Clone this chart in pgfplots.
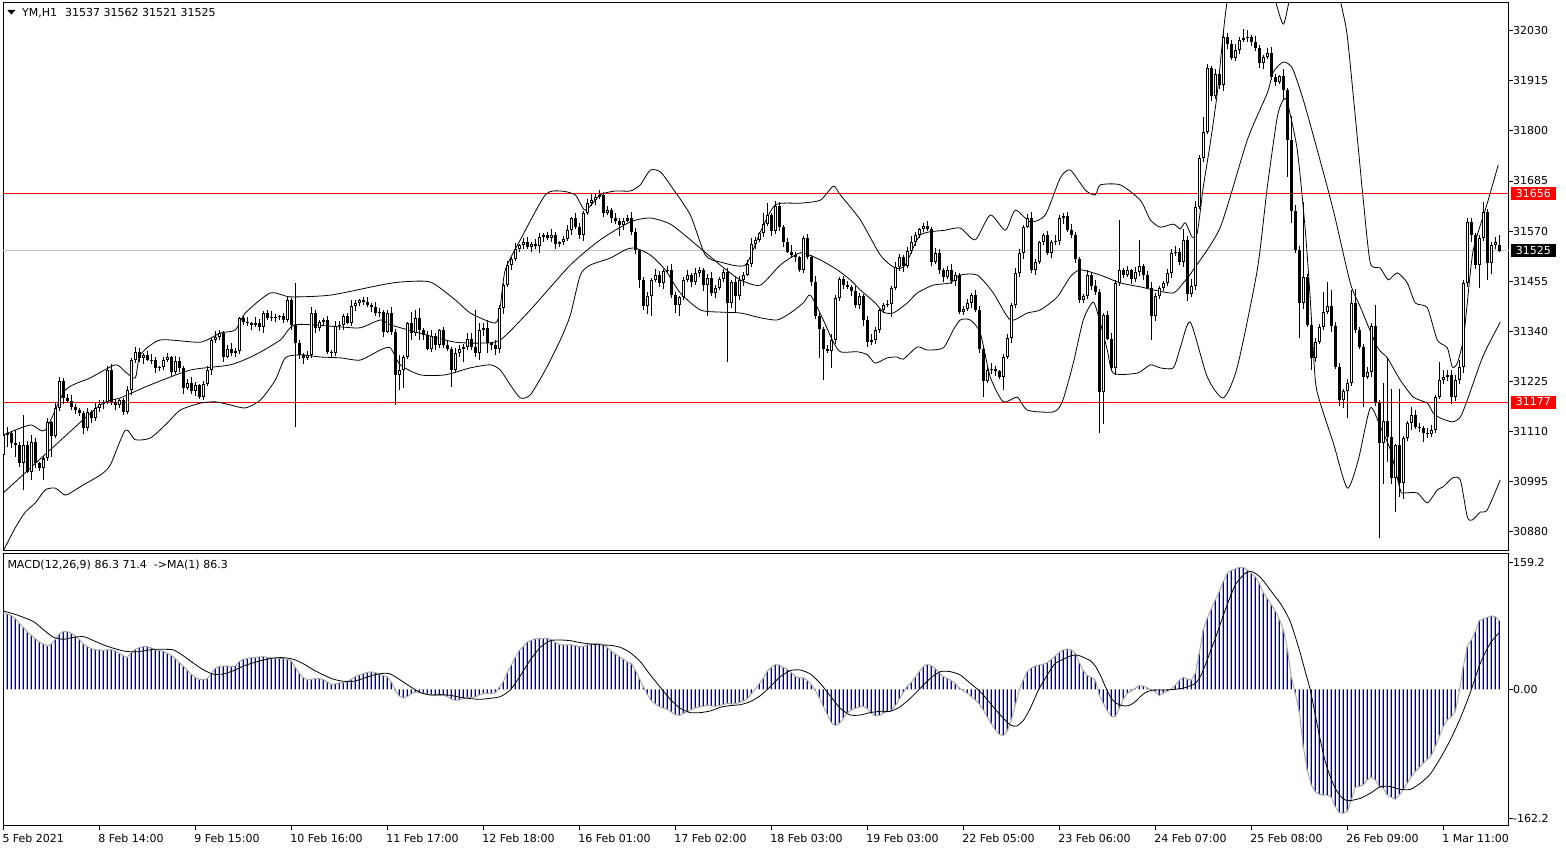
\documentclass[border=0pt]{standalone}
\usepackage{fontspec}
\setmainfont{DejaVu Sans}
\usepackage{pgfplots}
\usepackage{pgfplotstable}
\pgfplotsset{compat=1.18}
\definecolor{navyb}{RGB}{0,0,128}
\definecolor{histline}{RGB}{170,170,170}
\definecolor{lvl}{RGB}{192,192,192}
\newcommand{\tf}{\fontsize{11}{13}\selectfont}

\pgfplotstableread{
i o h l c
0 31056 31110 31050 31102
1 31102 31121 31075 31106
2 31106 31110 31072 31083
3 31083 31113 31052 31078
4 31078 31086 31029 31038
5 31038 31148 30976 31080
6 31080 31089 31014 31018
7 31018 31101 30999 31087
8 31087 31094 31027 31037
9 31037 31040 31020 31026
10 31026 31054 30999 31048
11 31048 31141 31043 31131
12 31131 31135 31052 31100
13 31100 31177 31094 31165
14 31165 31235 31156 31227
15 31227 31232 31173 31186
16 31186 31195 31176 31180
17 31180 31194 31160 31167
18 31167 31174 31150 31160
19 31160 31163 31146 31152
20 31152 31158 31105 31117
21 31117 31165 31112 31155
22 31155 31159 31129 31140
23 31140 31175 31134 31163
24 31163 31182 31154 31174
25 31174 31183 31161 31178
26 31178 31260 31174 31251
27 31251 31265 31171 31178
28 31178 31185 31160 31170
29 31170 31185 31164 31182
30 31182 31188 31147 31155
31 31155 31215 31150 31205
32 31205 31278 31194 31274
33 31274 31305 31268 31293
34 31293 31301 31269 31278
35 31278 31290 31265 31285
36 31285 31294 31271 31275
37 31275 31289 31266 31273
38 31273 31280 31245 31255
39 31255 31261 31249 31258
40 31258 31280 31250 31274
41 31274 31290 31269 31280
42 31280 31284 31236 31247
43 31247 31284 31241 31272
44 31272 31280 31246 31255
45 31255 31260 31197 31210
46 31210 31230 31206 31221
47 31221 31235 31195 31202
48 31202 31224 31192 31217
49 31217 31220 31184 31190
50 31190 31226 31182 31220
51 31220 31261 31215 31251
52 31251 31324 31240 31320
53 31320 31340 31314 31328
54 31328 31344 31319 31336
55 31336 31341 31269 31282
56 31282 31309 31278 31300
57 31300 31314 31283 31290
58 31290 31302 31280 31295
59 31295 31373 31289 31370
60 31370 31376 31354 31362
61 31362 31372 31353 31358
62 31358 31362 31344 31355
63 31355 31372 31349 31360
64 31360 31368 31341 31350
65 31350 31386 31337 31381
66 31381 31390 31366 31370
67 31370 31387 31363 31373
68 31373 31380 31362 31372
69 31372 31378 31366 31375
70 31375 31381 31358 31366
71 31366 31422 31361 31412
72 31412 31416 31344 31355
73 31355 31450 31121 31312
74 31312 31320 31276 31285
75 31285 31290 31265 31278
76 31278 31294 31274 31285
77 31285 31395 31278 31381
78 31381 31388 31337 31347
79 31347 31365 31341 31362
80 31362 31371 31354 31365
81 31365 31375 31288 31293
82 31293 31297 31279 31290
83 31290 31363 31284 31351
84 31351 31363 31342 31355
85 31355 31379 31342 31374
86 31374 31383 31356 31360
87 31360 31411 31353 31397
88 31397 31412 31387 31405
89 31405 31415 31399 31412
90 31412 31418 31400 31408
91 31408 31418 31395 31400
92 31400 31404 31385 31396
93 31396 31408 31375 31381
94 31381 31393 31372 31385
95 31385 31390 31326 31339
96 31339 31390 31335 31381
97 31381 31395 31332 31339
98 31339 31345 31171 31240
99 31240 31285 31205 31250
100 31250 31285 31210 31282
101 31282 31362 31277 31358
102 31358 31385 31320 31335
103 31335 31390 31330 31370
104 31370 31393 31320 31343
105 31343 31348 31319 31332
106 31332 31341 31296 31300
107 31300 31344 31293 31330
108 31330 31337 31298 31308
109 31308 31346 31302 31343
110 31343 31349 31301 31309
111 31309 31319 31295 31300
112 31300 31304 31213 31251
113 31251 31302 31245 31290
114 31290 31308 31281 31300
115 31300 31310 31270 31305
116 31305 31335 31296 31323
117 31323 31337 31298 31305
118 31305 31388 31280 31290
119 31290 31358 31275 31343
120 31343 31360 31330 31347
121 31347 31365 31290 31312
122 31312 31316 31297 31308
123 31308 31320 31285 31300
124 31300 31401 31291 31393
125 31393 31451 31380 31446
126 31446 31502 31442 31492
127 31492 31511 31481 31507
128 31507 31542 31501 31530
129 31530 31541 31521 31538
130 31538 31553 31530 31546
131 31546 31556 31528 31533
132 31533 31544 31522 31540
133 31540 31552 31529 31535
134 31535 31565 31520 31557
135 31557 31565 31544 31560
136 31560 31569 31549 31553
137 31553 31574 31546 31560
138 31560 31567 31530 31540
139 31540 31548 31534 31545
140 31545 31558 31537 31552
141 31552 31583 31547 31573
142 31573 31603 31562 31599
143 31599 31611 31574 31580
144 31580 31588 31552 31561
145 31561 31616 31548 31611
146 31611 31643 31607 31634
147 31634 31655 31627 31641
148 31641 31656 31631 31649
149 31649 31665 31643 31653
150 31653 31659 31603 31611
151 31611 31628 31606 31618
152 31618 31622 31588 31599
153 31599 31611 31586 31592
154 31592 31600 31558 31585
155 31585 31599 31572 31594
156 31594 31608 31590 31599
157 31599 31613 31562 31569
158 31569 31576 31518 31527
159 31527 31530 31440 31458
160 31458 31464 31389 31397
161 31397 31430 31380 31420
162 31420 31462 31374 31458
163 31458 31482 31452 31470
164 31470 31478 31441 31450
165 31450 31483 31437 31478
166 31478 31489 31474 31480
167 31480 31494 31416 31423
168 31423 31430 31381 31400
169 31400 31422 31374 31419
170 31419 31464 31411 31458
171 31458 31480 31453 31470
172 31470 31474 31441 31452
173 31452 31485 31446 31473
174 31473 31488 31464 31480
175 31480 31485 31433 31446
176 31446 31471 31374 31462
177 31462 31476 31420 31427
178 31427 31447 31417 31440
179 31440 31464 31434 31461
180 31461 31482 31453 31476
181 31476 31486 31270 31404
182 31404 31458 31393 31454
183 31454 31466 31385 31420
184 31420 31466 31411 31458
185 31458 31475 31445 31470
186 31470 31504 31466 31495
187 31495 31554 31488 31540
188 31540 31557 31530 31550
189 31550 31568 31544 31565
190 31565 31611 31557 31587
191 31587 31634 31582 31607
192 31607 31611 31559 31570
193 31570 31640 31564 31628
194 31628 31636 31571 31580
195 31580 31585 31533 31546
196 31546 31555 31519 31523
197 31523 31537 31508 31515
198 31515 31522 31500 31510
199 31510 31513 31475 31481
200 31481 31559 31473 31553
201 31553 31563 31506 31511
202 31511 31515 31443 31454
203 31454 31466 31368 31374
204 31374 31382 31278 31345
205 31345 31350 31228 31300
206 31300 31309 31291 31295
207 31295 31334 31255 31320
208 31320 31423 31310 31416
209 31416 31464 31410 31461
210 31461 31467 31438 31446
211 31446 31456 31437 31442
212 31442 31446 31421 31432
213 31432 31444 31394 31400
214 31400 31428 31391 31420
215 31420 31425 31353 31366
216 31366 31375 31305 31316
217 31316 31334 31309 31320
218 31320 31349 31310 31342
219 31342 31392 31336 31389
220 31389 31406 31381 31400
221 31400 31412 31395 31402
222 31402 31444 31373 31440
223 31440 31500 31434 31488
224 31488 31518 31479 31510
225 31510 31515 31477 31490
226 31490 31534 31486 31525
227 31525 31559 31518 31545
228 31545 31567 31535 31560
229 31560 31578 31554 31575
230 31575 31588 31567 31582
231 31582 31592 31570 31575
232 31575 31579 31489 31500
233 31500 31532 31494 31520
234 31520 31528 31471 31480
235 31480 31485 31452 31465
236 31465 31489 31461 31480
237 31480 31494 31448 31455
238 31455 31477 31445 31470
239 31470 31473 31379 31385
240 31385 31398 31377 31392
241 31392 31415 31387 31405
242 31405 31427 31394 31423
243 31423 31435 31384 31390
244 31390 31398 31291 31300
245 31300 31305 31190 31225
246 31225 31259 31221 31250
247 31250 31268 31243 31254
248 31254 31261 31238 31248
249 31248 31251 31230 31236
250 31236 31288 31205 31282
251 31282 31334 31277 31324
252 31324 31404 31313 31400
253 31400 31485 31394 31473
254 31473 31528 31464 31520
255 31520 31585 31507 31580
256 31580 31610 31576 31600
257 31600 31614 31473 31480
258 31480 31507 31470 31500
259 31500 31548 31494 31545
260 31545 31566 31537 31560
261 31560 31570 31515 31520
262 31520 31549 31509 31545
263 31545 31560 31539 31548
264 31548 31607 31539 31599
265 31599 31612 31586 31604
266 31604 31613 31569 31573
267 31573 31587 31553 31560
268 31560 31567 31497 31507
269 31507 31510 31406 31412
270 31412 31426 31404 31420
271 31420 31480 31415 31470
272 31470 31474 31434 31445
273 31445 31457 31424 31430
274 31430 31438 31106 31200
275 31200 31382 31128 31377
276 31377 31386 31319 31323
277 31323 31337 31248 31255
278 31255 31457 31240 31450
279 31450 31595 31444 31480
280 31480 31486 31462 31470
281 31470 31490 31465 31480
282 31480 31484 31449 31460
283 31460 31487 31454 31475
284 31475 31550 31466 31490
285 31490 31495 31457 31470
286 31470 31479 31436 31440
287 31440 31454 31320 31374
288 31374 31427 31364 31420
289 31420 31443 31414 31440
290 31440 31456 31432 31450
291 31450 31483 31445 31473
292 31473 31530 31462 31519
293 31519 31535 31513 31523
294 31523 31531 31491 31500
295 31500 31575 31487 31550
296 31550 31559 31410 31425
297 31425 31459 31418 31445
298 31445 31638 31435 31626
299 31626 31745 31620 31737
300 31737 31832 31729 31798
301 31798 31954 31793 31944
302 31944 31948 31869 31880
303 31880 31942 31874 31930
304 31930 31938 31896 31905
305 31905 32030 31892 32016
306 32016 32025 31987 32000
307 32000 32009 31963 31967
308 31967 32000 31960 31986
309 31986 32016 31976 32009
310 32009 32033 32003 32013
311 32013 32031 32005 32016
312 32016 32020 31994 32005
313 32005 32017 31984 31990
314 31990 31998 31945 31955
315 31955 31975 31942 31970
316 31970 31990 31966 31978
317 31978 31992 31917 31924
318 31924 31931 31903 31913
319 31913 31928 31907 31925
320 31925 31943 31871 31894
321 31894 31899 31695 31779
322 31779 31833 31588 31615
323 31615 31629 31520 31527
324 31527 31535 31324 31404
325 31404 31637 31391 31465
326 31465 31471 31350 31355
327 31355 31360 31251 31278
328 31278 31325 31270 31316
329 31316 31356 31310 31350
330 31350 31430 31342 31385
331 31385 31454 31380 31397
332 31397 31435 31339 31351
333 31351 31362 31253 31259
334 31259 31267 31169 31182
335 31182 31207 31165 31202
336 31202 31230 31140 31221
337 31221 31435 31214 31404
338 31404 31438 31336 31343
339 31343 31350 31299 31305
340 31305 31311 31167 31236
341 31236 31257 31231 31247
342 31247 31360 31236 31351
343 31351 31400 31169 31175
344 31175 31183 30866 31083
345 31083 31221 30990 31133
346 31133 31278 31040 31098
347 31098 31208 30990 31003
348 31003 31082 30926 31079
349 31079 31208 30960 30991
350 30991 31099 30955 31094
351 31094 31135 31088 31129
352 31129 31167 31114 31148
353 31148 31160 31116 31121
354 31121 31130 31108 31117
355 31117 31122 31086 31106
356 31106 31119 31096 31104
357 31104 31125 31098 31113
358 31113 31194 31106 31190
359 31190 31270 31184 31228
360 31228 31250 31220 31236
361 31236 31250 31226 31240
362 31240 31250 31173 31190
363 31190 31240 31180 31228
364 31228 31275 31219 31258
365 31258 31458 31245 31451
366 31451 31600 31442 31591
367 31591 31600 31545 31561
368 31561 31566 31484 31492
369 31492 31560 31439 31554
370 31554 31637 31548 31614
371 31614 31620 31458 31497
372 31497 31545 31471 31538
373 31538 31556 31528 31545
374 31537 31562 31521 31525
}\candles

\pgfplotstableread{
i v
0 31102
6.75 31125
10.5 31113
15.5 31205
21.75 31233
28 31263
30.5 31247
33 31233
34.25 31286
39.25 31320
49.25 31315
54.25 31336
58 31343
60.5 31382
66.75 31428
71.75 31419
81.75 31423
94.25 31446
99.25 31453
106.75 31453
113 31412
116.75 31382
123 31359
124.25 31398
125.5 31481
129.25 31550
135.5 31653
139.25 31662
143 31653
145.5 31618
149.25 31653
153 31662
156.75 31662
159.25 31676
161.75 31710
164.25 31706
166.75 31676
171.75 31607
175.5 31515
179.25 31499
185.5 31492
189.25 31568
193 31630
199.25 31634
204.25 31641
207.5 31673
209.25 31653
214.25 31596
219.25 31515
223 31485
225.5 31492
229.25 31561
235.5 31572
239.25 31577
243 31550
246.75 31607
250.5 31572
253 31618
256.75 31591
260.5 31607
264.25 31692
266.75 31710
270.5 31664
273 31653
274.25 31676
279.25 31676
284.25 31641
286.75 31596
289.25 31579
292.5 31586
294.25 31575
295.5 31589
297.25 31556
298.5 31566
300 31671
301.75 31772
303.5 31887
305 32025
306 32100
308 32192
312 32260
315.5 32192
318 32100
320 32045
321.5 32100
324.25 32215
329.25 32238
333 32169
334.25 32100
335.9 32025
337.6 31871
338.8 31756
340 31641
341.75 31497
344.25 31485
346.25 31458
348.5 31474
351 31451
353 31405
356 31394
358.5 31320
361 31302
362.25 31258
363.5 31267
365 31320
366 31405
367.5 31527
371 31634
373.75 31722
}\upperband

\pgfplotstableread{
i v
0 30969
11.75 31068
24.25 31171
29.25 31187
36.75 31217
46.75 31251
56.75 31263
63 31286
69.25 31320
73 31355
84.25 31350
89.25 31348
94.25 31366
96.75 31355
106.75 31329
113 31315
119.25 31313
124.25 31320
131.75 31389
141.75 31492
149.25 31550
156.75 31591
161.75 31600
166.75 31586
171.75 31550
179.25 31492
184.25 31458
189.25 31446
194.25 31492
199.25 31520
204 31505
208.5 31481
211.75 31458
214.25 31435
218 31405
220 31384
222.5 31382
226 31405
228.5 31428
232.5 31446
236.75 31451
239.25 31469
243.5 31469
247.5 31428
251.75 31366
256 31382
259.25 31389
263.5 31419
266.75 31465
269.25 31481
274.25 31469
279.25 31451
284.25 31442
287.5 31435
292.5 31428
295 31451
297.5 31481
304.25 31579
311 31779
316 31887
317.5 31935
320 31958
322.25 31944
325 31871
328.5 31756
332.5 31618
336.75 31451
339.25 31396
343.5 31304
346 31279
349.25 31228
352.5 31189
356 31175
357.5 31152
359.25 31141
362.25 31132
364.25 31143
366 31182
369.25 31267
371 31304
374.25 31361
}\midband

\pgfplotstableread{
i v
0 30836
3 30889
5.5 30925
8 30946
10.5 30976
13 30980
15.5 30964
18 30976
20.5 30990
24.25 31010
26.75 31033
30.5 31113
33 31091
36.75 31095
40.5 31125
44.25 31159
49.25 31175
53 31178
56.75 31171
60.5 31164
64.25 31182
68 31228
70.5 31279
74.25 31286
79.25 31281
84.25 31279
89.25 31274
94.25 31297
96.75 31302
99.25 31263
104.25 31240
110.5 31240
116.75 31256
121.75 31263
124.25 31251
126.75 31217
129.25 31187
131.75 31194
135.5 31251
139.25 31320
141.75 31377
144.25 31469
146.75 31492
151.75 31508
155.5 31527
158 31531
161.75 31515
165.5 31481
169.25 31428
174.25 31389
179.25 31384
184.25 31382
189.25 31371
193.5 31366
196.75 31382
200 31405
201.75 31423
204.75 31371
207.25 31320
209.25 31293
213.5 31293
216 31286
218 31267
221 31279
223.5 31281
225 31276
228.5 31304
231 31297
235 31302
237.5 31343
239.25 31366
241.75 31366
244.25 31336
246.75 31235
250 31178
253.5 31189
256 31159
262.5 31155
264.75 31178
267.5 31267
270 31366
272.5 31407
274.25 31359
276 31297
277.5 31244
283.5 31244
286.75 31263
289.25 31256
292.5 31256
294.25 31302
296.75 31361
301 31235
305 31187
308.5 31258
313.5 31481
316 31671
318.5 31832
320 31871
321 31866
323.5 31756
325.5 31572
326.75 31412
328 31228
329.25 31175
332.5 31084
336 30980
338.75 31045
341.75 31164
344.25 31121
346.75 31068
349.25 30976
350 30969
353.5 30969
356 30946
358.5 30976
360 30983
362.25 31003
364.25 30999
366 30914
367.25 30907
369.25 30925
371 30930
374.25 30999
}\lowerband

\pgfplotstableread{
i m
0 95.6
1 94.7
2 92.6
3 88.9
4 83.0
5 78.0
6 72.1
7 67.9
8 63.7
9 59.5
10 57.0
11 54.5
12 57.0
13 62.9
14 69.6
15 72.5
16 72.5
17 70.4
18 67.1
19 62.9
20 57.0
21 53.7
22 51.1
23 49.5
24 49.5
25 49.0
26 49.5
27 49.9
28 48.2
29 45.3
30 41.9
31 40.2
32 46.1
33 50.3
34 52.4
35 53.7
36 53.7
37 52.0
38 49.9
39 48.6
40 47.8
41 45.3
42 42.8
43 38.6
44 33.5
45 29.3
46 23.9
47 18.9
48 14.7
49 12.6
50 12.2
51 13.4
52 20.1
53 26.4
54 28.9
55 29.3
56 29.3
57 28.5
58 29.3
59 34.8
60 37.7
61 39.0
62 39.8
63 40.2
64 40.7
65 41.1
66 40.2
67 39.4
68 39.0
69 39.0
70 38.6
71 37.7
72 35.6
73 27.7
74 20.1
75 14.7
76 11.7
77 12.6
78 13.4
79 13.4
80 12.2
81 9.2
82 5.9
83 6.7
84 8.0
85 8.8
86 10.1
87 12.6
88 15.9
89 18.0
90 19.7
91 21.4
92 21.8
93 21.0
94 19.3
95 17.2
96 15.5
97 9.6
98 -1.7
99 -8.4
100 -10.9
101 -9.2
102 -5.9
103 -3.4
104 -3.4
105 -4.6
106 -5.9
107 -7.1
108 -8.0
109 -7.5
110 -7.5
111 -9.2
112 -12.2
113 -13.8
114 -13.4
115 -11.7
116 -10.1
117 -10.1
118 -9.6
119 -7.1
120 -5.4
121 -5.0
122 -5.0
123 -4.6
124 2.5
125 9.6
126 21.0
127 30.6
128 40.2
129 48.6
130 53.7
131 59.5
132 61.6
133 63.3
134 64.1
135 64.1
136 64.1
137 62.5
138 59.1
139 56.6
140 55.8
141 55.8
142 55.8
143 54.9
144 53.7
145 53.7
146 55.8
147 57.0
148 57.9
149 57.9
150 56.2
151 52.4
152 48.2
153 44.4
154 41.1
155 38.1
156 34.4
157 32.3
158 24.3
159 13.8
160 3.4
161 -6.3
162 -14.3
163 -18.4
164 -21.8
165 -23.5
166 -25.2
167 -28.5
168 -31.9
169 -32.7
170 -30.6
171 -28.1
172 -25.6
173 -23.5
174 -22.2
175 -21.4
176 -20.1
177 -21.0
178 -21.4
179 -20.5
180 -19.3
181 -17.6
182 -18.4
183 -18.0
184 -16.8
185 -14.7
186 -11.7
187 -5.9
188 0.4
189 7.1
190 13.8
191 22.6
192 27.7
193 31.0
194 30.6
195 27.7
196 25.2
197 21.0
198 16.3
199 14.3
200 14.3
201 11.3
202 5.9
203 -1.3
204 -10.5
205 -21.4
206 -31.4
207 -41.9
208 -45.7
209 -43.2
210 -36.5
211 -29.8
212 -26.0
213 -23.9
214 -22.2
215 -21.4
216 -24.3
217 -30.2
218 -33.5
219 -33.1
220 -30.2
221 -28.1
222 -26.4
223 -20.5
224 -12.6
225 -4.2
226 3.8
227 8.8
228 15.5
229 22.2
230 28.5
231 31.4
232 29.8
233 26.0
234 21.0
235 15.9
236 13.8
237 10.9
238 7.1
239 1.7
240 -1.7
241 -5.0
242 -9.2
243 -13.4
244 -18.4
245 -26.0
246 -34.8
247 -43.2
248 -51.1
249 -56.6
250 -58.3
251 -52.4
252 -38.6
253 -19.7
254 -0.8
255 11.7
256 22.2
257 26.8
258 29.3
259 30.6
260 31.4
261 33.5
262 37.7
263 41.9
264 46.5
265 49.5
266 50.7
267 49.5
268 45.3
269 33.5
270 23.5
271 17.2
272 15.1
273 11.7
274 -7.1
275 -17.6
276 -26.8
277 -34.4
278 -34.4
279 -24.3
280 -12.2
281 -5.0
282 -2.1
283 1.3
284 4.6
285 4.2
286 1.7
287 -0.4
288 -2.9
289 -8.0
290 -5.0
291 -2.5
292 0.4
293 5.4
294 10.9
295 15.1
296 12.6
297 11.7
298 20.1
299 45.3
300 74.6
301 89.3
302 101.0
303 112.3
304 122.8
305 135.4
306 145.9
307 149.7
308 151.3
309 153.4
310 153.4
311 150.1
312 145.9
313 141.7
314 133.3
315 121.6
316 114.4
317 106.5
318 98.5
319 88.0
320 75.5
321 51.6
322 15.9
323 -5.0
324 -28.1
325 -72.1
326 -101.4
327 -120.3
328 -128.7
329 -132.0
330 -132.9
331 -133.3
332 -135.8
333 -147.6
334 -155.1
335 -155.9
336 -153.8
337 -139.2
338 -123.2
339 -122.0
340 -120.3
341 -114.0
342 -110.7
343 -114.0
344 -122.4
345 -124.5
346 -132.9
347 -135.8
348 -138.3
349 -132.9
350 -126.6
351 -118.2
352 -109.8
353 -103.5
354 -98.5
355 -93.1
356 -88.0
357 -83.4
358 -72.1
359 -59.5
360 -47.0
361 -38.6
362 -34.4
363 -28.1
364 -2.9
365 28.5
366 53.7
367 62.0
368 72.5
369 86.4
370 88.5
371 90.5
372 92.2
373 91.4
374 86.3
}\macd

\pgfplotstableread{
i s
0 98.5
3.42 93.5
7.58 85.1
10.08 74.6
12.58 65.4
15.08 62.9
17.58 65.4
20.08 66.2
22.58 61.2
25.08 55.8
27.58 51.6
30.08 48.2
32.58 47.0
35.08 48.2
37.58 50.3
40.08 50.3
42.58 49.5
45.08 41.9
47.58 32.7
50.08 24.3
52.58 18.9
55.08 19.3
57.58 23.5
60.08 29.3
62.58 33.5
65.08 36.9
67.58 39.4
70.08 39.8
72.58 37.7
75.08 31.9
77.58 24.3
80.08 18.0
82.58 12.6
85.08 10.1
87.58 10.1
90.08 13.8
92.58 18.0
95.08 20.1
96.75 19.3
99.25 11.7
101.75 3.4
104.25 -4.2
106.75 -7.1
109.25 -6.7
111.75 -7.5
114.25 -10.1
116.75 -11.7
119.25 -12.6
121.75 -11.3
124.25 -9.2
126.75 -0.8
129.25 17.0
131.75 36.9
134.25 52.8
136.75 61.2
139.25 62.0
141.75 61.2
144.25 58.7
146.75 57.0
149.25 55.8
151.75 55.3
154.25 52.8
156.75 46.1
159.25 34.8
161.75 18.0
164.25 2.5
166.75 -12.6
169.25 -23.9
171.75 -29.3
174.25 -29.3
176.75 -27.2
179.25 -22.6
181.75 -20.5
184.25 -19.3
186.75 -15.5
189.25 -8.0
191.75 3.4
194.25 15.9
196.75 23.5
199.25 24.3
201.75 19.3
204.25 7.5
206.75 -8.4
209.25 -23.9
211.75 -32.3
214.25 -32.3
216.75 -29.3
219.25 -27.7
221.75 -27.7
224.25 -21.8
226.75 -11.3
229.25 1.3
231.75 13.8
234.25 22.2
236.75 22.2
239.25 18.0
241.75 7.5
244.25 -2.9
246.75 -17.6
249.25 -32.3
251.75 -44.9
253.4 -46.1
255.1 -38.6
256.75 -23.9
258.4 -5.0
259.25 3.4
260.5 13.8
261.75 24.3
263 32.7
264.25 36.1
265.5 39.0
266.75 41.9
268 43.2
269.25 41.9
270.5 39.0
271.75 36.1
273 29.3
274.25 18.0
275.5 3.4
276.75 -9.2
278 -16.8
279.25 -19.7
280.5 -21.0
281.75 -19.7
283 -15.5
284.25 -9.2
285.5 -4.2
286.75 -1.7
288 -0.8
290.5 -0.8
293 0.0
295.5 2.1
298 7.5
299.25 15.9
300.5 30.6
301.75 47.4
303 64.1
304.25 82.2
305.5 99.8
306.75 116.5
308 131.2
309.25 139.6
310.5 145.9
311.75 148.4
313 145.9
314.25 140.9
315.5 133.3
316.75 124.9
318 116.5
319.25 108.2
320.5 97.7
321.75 85.1
323 66.2
324.25 45.3
325.5 22.2
326.75 -0.8
328 -32.3
329.25 -63.7
330.5 -91.0
331.75 -109.8
333 -124.5
334.25 -134.1
335.5 -139.2
336.75 -140.0
339.25 -137.1
341.75 -130.8
344.25 -122.4
346.75 -122.4
349.25 -125.8
351.75 -125.8
354.25 -118.2
356.75 -106.5
359.25 -86.8
361.75 -63.7
364.25 -36.5
366.75 -4.2
369.25 32.7
371.75 58.0
374 71.4
}\signal

\pgfplotsset{
  candlebar/.style={only marks, mark=*, mark size=0pt, mark options={draw=none, fill=none}, forget plot,
    error bars/y dir=plus, error bars/y explicit, error bars/error mark=none},
}

\begin{document}
\begin{tikzpicture}
\useasboundingbox (0pt,0pt) rectangle (1566pt,850pt);
\begin{axis}[
  at={(3pt,299pt)}, anchor=south west, scale only axis,
  width=1506pt, height=548.5pt,
  xmin=-0.075, xmax=376.425, ymin=30835.7, ymax=32094.7,
  axis line style={black, line width=1pt},
  xtick=\empty,
  ytick={30880,30995,31110,31225,31340,31455,31570,31685,31800,31915,32030},
  yticklabels={30880,30995,31110,31225,31340,31455,31570,31685,31800,31915,32030},
  ytick pos=right, tick align=outside, major tick length=4pt,
  tick style={black, line width=0.8pt},
  yticklabel style={font=\tf, anchor=west, inner sep=0pt},
  clip mode=individual,
]
\addplot[red, line width=1pt, forget plot] coordinates {(-0.075,31177) (376.425,31177)};
\addplot[red, line width=1pt, forget plot] coordinates {(-0.075,31656) (376.425,31656)};
\addplot[lvl, line width=1pt, forget plot] coordinates {(-0.075,31525) (376.425,31525)};
\addplot[black, line width=0.8pt, smooth, tension=0.4, forget plot] table[x=i,y=v]{\upperband};
\addplot[black, line width=0.8pt, smooth, tension=0.4, forget plot] table[x=i,y=v]{\midband};
\addplot[black, line width=0.8pt, smooth, tension=0.4, forget plot] table[x=i,y=v]{\lowerband};
% wicks
\addplot[candlebar, error bars/error bar style={black, line width=1pt}]
  table[x=i, y=l, y error plus expr=\thisrow{h}-\thisrow{l}]{\candles};
% bullish bodies (outline)
\addplot[candlebar, restrict expr to domain={\thisrow{c}-\thisrow{o}}{0:5000}, error bars/error bar style={black, line width=3pt}]
  table[x=i, y=o, y error plus expr=\thisrow{c}-\thisrow{o}]{\candles};
% bearish bodies
\addplot[candlebar, restrict expr to domain={\thisrow{o}-\thisrow{c}}{0.5:5000}, error bars/error bar style={black, line width=3pt}]
  table[x=i, y=c, y error plus expr=\thisrow{o}-\thisrow{c}]{\candles};
% hollow interior of bullish bodies
\addplot[candlebar, restrict expr to domain={\thisrow{c}-\thisrow{o}}{6:5000}, error bars/error bar style={white, line width=1pt}]
  table[x=i, y expr=\thisrow{o}+2.3, y error plus expr=\thisrow{c}-\thisrow{o}-4.6]{\candles};
% price labels on the scale
\node[fill=red, text=white, font=\tf, anchor=west, inner xsep=5pt, inner ysep=2.2pt, text height=8pt, text depth=0.6pt, xshift=1.7pt] at (axis cs:376.425,31656) {31656};
\node[fill=black, text=white, font=\tf, anchor=west, inner xsep=5pt, inner ysep=2.2pt, text height=8pt, text depth=0.6pt, xshift=1.7pt] at (axis cs:376.425,31525) {31525};
\node[fill=red, text=white, font=\tf, anchor=west, inner xsep=5pt, inner ysep=2.2pt, text height=8pt, text depth=0.6pt, xshift=1.7pt] at (axis cs:376.425,31177) {31177};
\end{axis}

\begin{axis}[
  at={(3pt,24pt)}, anchor=south west, scale only axis,
  width=1506pt, height=272.5pt,
  xmin=-0.075, xmax=376.425, ymin=-171.9, ymax=170.8,
  axis line style={black, line width=1pt},
  xtick={0,24,...,360},
  xticklabels={5 Feb 2021,8 Feb 14:00,9 Feb 15:00,10 Feb 16:00,11 Feb 17:00,12 Feb 18:00,16 Feb 01:00,17 Feb 02:00,18 Feb 03:00,19 Feb 03:00,22 Feb 05:00,23 Feb 06:00,24 Feb 07:00,25 Feb 08:00,26 Feb 09:00,1 Mar 11:00},
  ytick={-162.2,0,159.2}, yticklabels={-162.2,0.00,159.2},
  xtick pos=bottom, ytick pos=right, tick align=outside, major tick length=4pt,
  tick style={black, line width=0.8pt},
  xticklabel style={font=\tf, anchor=north west, inner sep=0pt, xshift=-1pt, yshift=-4pt},
  yticklabel style={font=\tf, anchor=west, inner sep=0pt},
]
\addplot[ybar, bar width=1.2pt, fill=navyb, draw=none, forget plot] table[x=i,y=m]{\macd};
\addplot[histline, line width=1pt, forget plot] table[x=i,y=m]{\macd};
\addplot[black, line width=0.8pt, smooth, tension=0.4, forget plot] table[x=i,y=s]{\signal};
\end{axis}

\fill[black] (7.3pt,840pt) -- (15.5pt,840pt) -- (11.4pt,835.5pt) -- cycle;
\node[anchor=base west, inner sep=0pt, font=\tf] at (22pt,833pt) {YM,H1\hspace{8pt}31537 31562 31521 31525};
\node[anchor=base west, inner sep=0pt, font=\tf] at (7.3pt,281pt) {MACD(12,26,9) 86.3 71.4\hspace{7pt}->MA(1) 86.3};
\end{tikzpicture}
\end{document}
